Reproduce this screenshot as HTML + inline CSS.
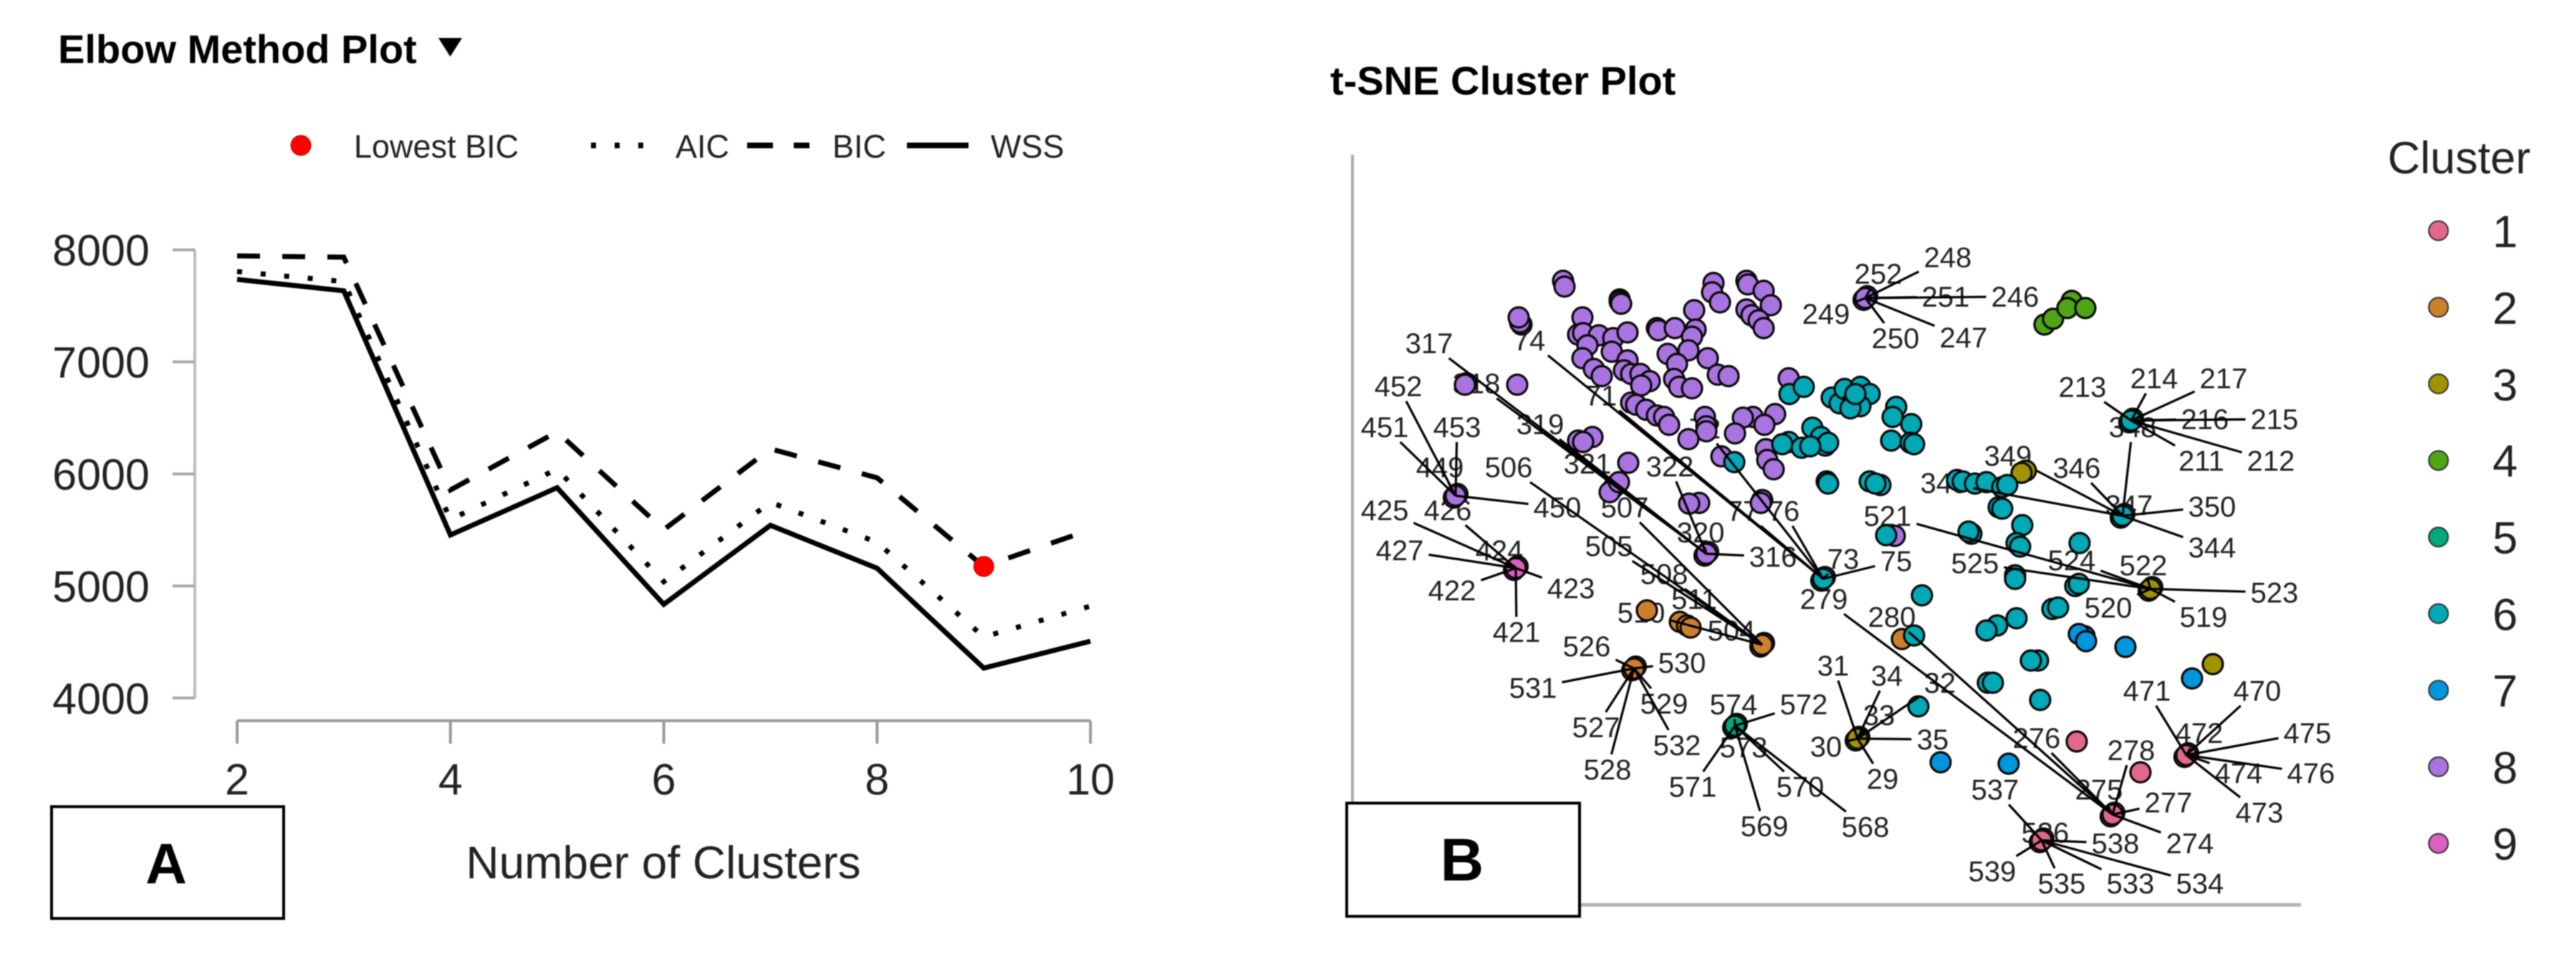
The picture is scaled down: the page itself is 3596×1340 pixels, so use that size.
<!DOCTYPE html>
<html lang="en">
<head>
<meta charset="utf-8">
<title>Elbow Method and t-SNE Cluster Plots</title>
<style>
html,body{margin:0;padding:0;background:#fff;}
svg{display:block;font-family:"Liberation Sans",Arial,sans-serif;filter:blur(0.7px);}
</style>
</head>
<body>
<svg id="figure" xmlns="http://www.w3.org/2000/svg" width="3596" height="1340" viewBox="0 0 3596 1340">
  <rect x="0" y="0" width="3596" height="1340" fill="#fff"/>

  <g id="elbow">
    <text x="81" y="88" font-size="56" font-weight="bold" fill="#000">Elbow Method Plot</text>
    <polygon points="612,53 645,53 628.500,79" fill="#000"/>
    <g>
      <circle cx="420" cy="203" r="14" fill="#f00" stroke="#b00" stroke-width="1"/>
      <text x="494" y="220" font-size="45" fill="#222">Lowest BIC</text>
      <line x1="825" y1="203" x2="900" y2="203" stroke="#000" stroke-width="8" stroke-dasharray="7 26"/>
      <text x="943" y="220" font-size="45" fill="#222">AIC</text>
      <line x1="1043" y1="203" x2="1130" y2="203" stroke="#000" stroke-width="8" stroke-dasharray="36 29"/>
      <text x="1162" y="220" font-size="45" fill="#222">BIC</text>
      <line x1="1266" y1="203" x2="1352" y2="203" stroke="#000" stroke-width="8"/>
      <text x="1383" y="220" font-size="45" fill="#222">WSS</text>
    </g>
    <g id="elbow-axes"></g>
    <g id="elbow-lines"></g>
    <text x="926" y="1226" font-size="64" text-anchor="middle" fill="#222">Number of Clusters</text>
    <rect x="72" y="1126" width="324" height="156" fill="#fff" stroke="#000" stroke-width="4"/>
    <text x="232" y="1233" font-size="80" font-weight="bold" text-anchor="middle" fill="#000">A</text>
  </g>

  <g id="tsne">
    <text x="1857" y="132" font-size="56" font-weight="bold" fill="#000">t-SNE Cluster Plot</text>
    <line x1="1888" y1="216" x2="1888" y2="1263" stroke="#aaa" stroke-width="4"/>
    <line x1="1888" y1="1263" x2="3212" y2="1263" stroke="#b4b4b4" stroke-width="5"/>
    <g id="tsne-labels"></g>
    <g id="tsne-points"></g>
    <g id="tsne-connectors"></g>
    <rect x="1880" y="1121" width="325" height="158" fill="#fff" stroke="#000" stroke-width="4"/>
    <text x="2041" y="1229" font-size="84" font-weight="bold" text-anchor="middle" fill="#000">B</text>
    <text x="3333" y="242" font-size="63" fill="#222">Cluster</text>
    <g id="tsne-legend"></g>
  </g>
</svg>

<script>
// ---------- Elbow plot data ----------
const clusterCounts = [2, 3, 4, 5, 6, 7, 8, 9, 10];
const wssValues = [7736, 7634, 5455, 5877, 4836, 5541, 5158, 4267, 4507];
const aicValues = [7806, 7717, 5594, 6042, 5038, 5747, 5390, 4545, 4820];
const bicValues = [7946, 7934, 5857, 6376, 5502, 6224, 5965, 5174, 5502];
const elbowXTicks = [2, 4, 6, 8, 10];
const elbowYTicks = [4000, 5000, 6000, 7000, 8000];

// ---------- t-SNE data, in embedding units [dim1, dim2] ----------
const cluster1 = [[101.1,22.8],[110,18.5]];
const cluster2 = [[41.1,41.1],[45.7,39.5],[46.7,39],[47.2,38.7],[76.7,37.1]];
const cluster3 = [[94,60.6],[93.4,60.3],[120.1,33.6]];
const cluster4 = [[100.4,84.3],[96.6,81],[97.8,81.8],[99.8,83.3],[102.3,83.3]];
const cluster5 = [];
const cluster6 = [[61,71.3],[63,72.3],[66.9,70.8],[68,70],[68.7,72],[69.9,70.3],[70.9,72.3],[72.2,71.3],[70.9,69.6],[69.5,69.3],[70.2,71.3],
  [75.9,69.5],[75.4,68.1],[78,67.1],[75.2,64.8],[77.9,64.5],[78.4,64.3],
  [60.9,64.6],[60,64.3],[62.7,63.8],[64.2,66.6],[65.4,65.3],[66,64.1],[66.4,64.5],[63.9,64],
  [53.3,61.8],[66.2,59.1],[66.4,58.8],[72.2,59.1],[73.7,58.6],[73,58.8],[74.5,51.6],
  [84.4,59.3],[85.2,59.1],[86.9,58.8],[88.5,59],[90.7,58.3],[91.4,58.6],[90.2,55.5],[90.7,55.3],
  [93.5,53],[86.4,51.8],[86,52.1],[92.7,50.5],[93.2,50],[101.5,50.5],[92.5,46],[92.5,45.5],
  [100.9,44.5],[101.4,44.8],[97.7,41.3],[98.5,41.5],[92.7,40],[90,39],[88.5,38.3],[79.5,43.2],[78.4,37.6],
  [95.7,34.1],[94.7,34.1],[88.7,31],[89.4,31],[96,28.6],[79,27.7]];
const cluster7 = [[102.2,37.5],[101.4,37.8],[102.4,36.8],[107.9,36],[82.1,19.9],[91.6,19.7],[117.2,31.6]];
const cluster8 = [[29.4,87.1],[29.6,86.3],[37.3,84.5],[37.3,84.2],[37.5,83.9],[23.6,81],[23.4,81.3],[23.2,82],[32.1,82],[31.5,79.6],[32.2,79.8],
  [34.4,79.5],[36.4,79.1],[38.4,79.9],[32.8,78.1],[36.2,77.2],[32.1,76.3],[33.7,74.8],[34.8,73.8],[38.4,76],[37.9,74.6],[38.9,74.1],
  [40.2,74.1],[41.5,73.1],[40.3,72.5],[42.5,80.5],[42.7,80.2],[45,80.5],[47.7,83],[47.9,80.3],[47.4,79.3],[44,76.9],[46.9,77.4],[45.3,75.5],
  [49.6,76.3],[51,74],[52.5,73.8],[44.9,73.4],[45.6,72.3],[47.4,72.1],[50.4,86.8],[50.2,85.5],[51.3,84.1],[55,87.1],[55.2,86.6],[57.4,85.7],
  [58.4,83.7],[55,83.1],[55.7,82.3],[56.7,81.6],[57.4,80.5],[38.9,70.1],[39.6,69.8],[41,69.1],[42.5,68.3],[43.5,68.1],[44.2,67],
  [49.2,68.1],[49.4,66.8],[49.4,66.1],[46.9,65],[55.9,68.1],[59,68.5],[54.5,68],[57.5,67],[53.4,65.8],[57.7,63.6],[57.9,62.1],[58.8,60.8],
  [51.5,62.6],[57.2,56.5],[57,56.1],[48.4,56.1],[47,56],[38.5,61.7],[36.5,58.3],[35.9,57.6],[37.2,59],[33.5,65.3],[31.5,64.8],[32.2,64.6],
  [23,72.6],[15.9,72.8],[15.7,72.6],[60.9,73.5],[75.7,51.5]];
const cluster9 = [];

// Repelled-label anchor points: [dim1, dim2, cluster]
const anchorPoints = [[71.6,84.7,8],[108.7,67.6,6],[107.5,54.3,6],[111.4,44.1,3],[65.7,45.5,6],[49.4,49,8],[57.2,36.3,2],[39.3,33,2],
  [53.4,25,5],[70.5,23.2,3],[14.4,57.1,8],[22.8,47,9],[116.4,20.9,1],[106.1,12.6,1],[96.2,9,1]];

// Repelled labels: [text, dim1, dim2, anchor index]
const repelLabels = [
  ["252",73.4,88.1,0],["248",83.1,90.4,0],["251",82.8,84.9,0],["246",92.5,84.9,0],["249",66.1,82.5,0],["250",75.8,79.1,0],["247",85.3,79.2,0],
  ["213",101.9,72.3,1],["214",111.9,73.5,1],["217",121.6,73.5,1],["216",119,67.8,1],["215",128.7,67.8,1],["211",118.5,62,1],["212",128.2,62,1],
  ["348",108.9,66.7,2],["349",91.5,62.7,2],["346",101.1,61,2],["345",82.6,58.9,2],["347",108.4,55.8,2],["350",120,55.6,2],["344",120,49.9,2],
  ["521",74.7,54.3,3],["525",86.9,47.7,3],["524",100.4,48.1,3],["522",110.4,47.4,3],["523",128.7,43.6,3],["519",118.8,40.2,3],["520",105.5,41.5,3],
  ["74",24.7,78.8,4],["71",34.7,71.1,4],["72",49.2,66.5,4],["77",54.5,55,4],["76",60.2,55,4],["73",68.5,48.3,4],["75",75.9,48,4],
  ["317",10.7,78.4,5],["318",17.3,72.8,5],["319",26.2,67.1,5],["321",32.8,61.6,5],["322",44.3,61.2,5],["320",48.6,52,5],["316",58.7,48.6,5],
  ["506",21.8,61.1,6],["507",38,55.5,6],["505",35.8,50.1,6],["508",43.5,46.2,6],["511",47.7,42.7,6],["510",40.3,40.8,6],["504",52.9,38.3,6],
  ["526",32.7,36.1,7],["530",46,33.8,7],["531",25.2,30.3,7],["529",43.5,28.1,7],["527",34,24.8,7],["532",45.3,22.3,7],["528",35.6,18.9,7],
  ["574",53.2,28,8],["572",63,28,8],["573",54.6,22,8],["571",47.5,16.5,8],["570",62.5,16.5,8],["569",57.5,11,8],["568",71.6,10.9,8],
  ["31",67.1,33.4,9],["34",74.6,32,9],["32",82,31,9],["33",73.5,26.5,9],["30",66.1,22.1,9],["35",81,23.1,9],["29",74,17.6,9],
  ["452",6.4,72.4,10],["451",4.5,66.7,10],["453",14.6,66.7,10],["449",12.2,61.1,10],["450",28.6,55.5,10],
  ["425",4.5,55.1,11],["426",13.3,55.1,11],["424",20.5,49.5,11],["427",6.6,49.5,11],["422",13.9,43.9,11],["423",30.5,44.2,11],["421",22.9,38.1,11],
  ["471",110.9,29.9,12],["470",126.3,29.9,12],["472",118.2,24,12],["475",133.3,24,12],["474",123.7,18.4,12],["476",133.8,18.4,12],["473",126.6,12.9,12],
  ["279",65.8,42.7,13],["280",75.3,40.2,13],["276",95.5,23.3,13],["278",108.7,21.6,13],["275",104.2,16.1,13],["277",113.9,14.3,13],["274",116.9,8.6,13],
  ["537",89.7,16.1,14],["536",96.7,10.1,14],["538",106.5,8.6,14],["539",89.3,4.7,14],["535",99,3,14],["533",108.6,3,14],["534",118.3,3,14]
];
const legendClusters = [1, 2, 3, 4, 5, 6, 7, 8, 9];

// ---------- Scales ----------
const NS = "http://www.w3.org/2000/svg";
function elbowX(v){ return 331 + (v - 2) * 148.9; }
function elbowY(v){ return 348.7 + (8000 - v) * 0.1564; }
function tsneX(v){ return 1888 + v * 10; }
function tsneY(v){ return 1263 - v * 10; }
const clusterColor = {1:"#E2688A",2:"#CD7F2C",3:"#A09200",4:"#4FA614",5:"#00A87C",6:"#00A9B5",7:"#0096DE",8:"#A974E0",9:"#DE5FC2"};

function make(tag, attrs, parent){
  const el = document.createElementNS(NS, tag);
  for (const k in attrs) el.setAttribute(k, attrs[k]);
  parent.appendChild(el);
  return el;
}

// ---------- Elbow axes ----------
const axesG = document.getElementById("elbow-axes");
const yAxisLine = make("line", {x1:272, y1:elbowY(8000), x2:272, y2:elbowY(4000), stroke:"#bdbdbd", "stroke-width":4}, axesG);


const xAxisLine = make("line", {x1:elbowX(2), y1:1006, x2:elbowX(10), y2:1006, stroke:"#9a9a9a", "stroke-width":4}, axesG);


elbowYTicks.forEach(function(t){
  const tick = make("line", {x1:241, y1:elbowY(t), x2:272, y2:elbowY(t), stroke:"#a8a8a8", "stroke-width":4}, axesG);
  
  
  const label = make("text", {x:141, y:elbowY(t) + 22, "font-size":61, "text-anchor":"middle", fill:"#222"}, axesG);
  label.textContent = t;
  
  
});
elbowXTicks.forEach(function(t){
  const tick = make("line", {x1:elbowX(t), y1:1006, x2:elbowX(t), y2:1038, stroke:"#9a9a9a", "stroke-width":4}, axesG);
  
  
  const label = make("text", {x:elbowX(t), y:1109, "font-size":61, "text-anchor":"middle", fill:"#222"}, axesG);
  label.textContent = t;
  
  
});

// ---------- Elbow series ----------
const elbowG = document.getElementById("elbow-lines");
function seriesPoints(values){
  return values.map(function(v, i){ return elbowX(clusterCounts[i]) + "," + elbowY(v); }).join(" ");
}
const wssLine = make("polyline", {points:seriesPoints(wssValues), fill:"none", stroke:"#000", "stroke-width":7, "stroke-linejoin":"miter"}, elbowG);


const aicLine = make("polyline", {points:seriesPoints(aicValues), fill:"none", stroke:"#000", "stroke-width":7, "stroke-dasharray":"7 26"}, elbowG);


const bicLine = make("polyline", {points:seriesPoints(bicValues), fill:"none", stroke:"#000", "stroke-width":7, "stroke-dasharray":"32 31"}, elbowG);


const lowestIndex = bicValues.indexOf(Math.min.apply(null, bicValues));
const lowestMark = make("circle", {cx:elbowX(clusterCounts[lowestIndex]), cy:elbowY(bicValues[lowestIndex]), r:14, fill:"#f00", stroke:"#b00", "stroke-width":1}, elbowG);



// ---------- t-SNE labels (behind points) ----------
const labelsG = document.getElementById("tsne-labels");
repelLabels.forEach(function(d){
  const label = make("text", {x:tsneX(d[1]), y:tsneY(d[2]) + 14, "font-size":40, "text-anchor":"middle", fill:"#222"}, labelsG);
  label.textContent = d[0];
  
  
});

// ---------- t-SNE points ----------
const pointsG = document.getElementById("tsne-points");
function drawPoint(px, py, c){
  const dot = make("circle", {cx:px, cy:py, r:14, fill:clusterColor[c], stroke:"#0a0a0a", "stroke-width":3.2}, pointsG);
  
  
}
const drawOrder = [[2, cluster2],[3, cluster3],[4, cluster4],[5, cluster5],[7, cluster7],[8, cluster8],[6, cluster6],[1, cluster1],[9, cluster9]];
drawOrder.forEach(function(entry){
  entry[1].forEach(function(p){ drawPoint(tsneX(p[0]), tsneY(p[1]), entry[0]); });
});
anchorPoints.forEach(function(p){
  drawPoint(tsneX(p[0]) - 2.5, tsneY(p[1]) + 2.5, p[2]);
  drawPoint(tsneX(p[0]) + 2.5, tsneY(p[1]) - 2.5, p[2]);
  drawPoint(tsneX(p[0]), tsneY(p[1]), p[2]);
});

// ---------- Connectors: anchor to label box edge ----------
const connG = document.getElementById("tsne-connectors");
repelLabels.forEach(function(d){
  const a = anchorPoints[d[3]];
  const ax = tsneX(a[0]), ay = tsneY(a[1]);
  const lx = tsneX(d[1]), ly = tsneY(d[2]);
  const halfW = d[0].length * 10.8 + 8, halfH = 21;
  const dx = ax - lx, dy = ay - ly;
  const k = Math.max(Math.abs(dx) / halfW, Math.abs(dy) / halfH);
  if (k <= 1) return;
  const conn = make("line", {x1:ax, y1:ay, x2:lx + dx / k, y2:ly + dy / k, stroke:"#000", "stroke-width":3.2}, connG);
  
  
});

// ---------- Cluster legend ----------
const legendG = document.getElementById("tsne-legend");
legendClusters.forEach(function(c, i){
  const cy = 322 + i * 106.9;
  const key = make("circle", {cx:3404, cy:cy, r:13.5, fill:clusterColor[c], stroke:"#333", "stroke-width":2}, legendG);
  
  
  const text = make("text", {x:3497, y:cy + 23, "font-size":63, "text-anchor":"middle", fill:"#222"}, legendG);
  text.textContent = c;
  
  
});
</script>
</body>
</html>
